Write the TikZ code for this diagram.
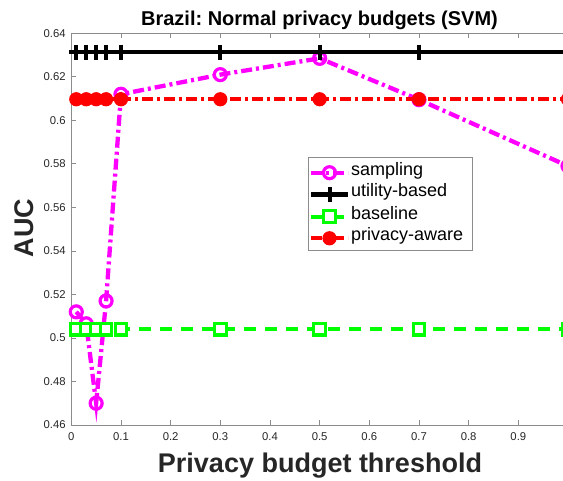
\documentclass[tikz,border=0pt]{standalone}
\usepackage{fontspec}
\setmainfont{Liberation Sans}
\usepackage{xcolor}
\usetikzlibrary{calc,plotmarks}
\frenchspacing
\definecolor{axisgray}{HTML}{8C8C8C}
\definecolor{ticktext}{HTML}{262626}
\definecolor{sampc}{HTML}{FF00FF}
\definecolor{utilc}{HTML}{000000}
\definecolor{basec}{HTML}{00FF00}
\definecolor{privc}{HTML}{FF0000}
\tikzset{
  frame/.style={draw=axisgray, line width=0.8pt},
  tick/.style={draw=axisgray, line width=0.8pt},
  tickl/.style={text=ticktext, font=\fontsize{11.3}{13}\selectfont, inner sep=0pt},
  titl/.style={text=black, font=\fontsize{20}{24}\selectfont\bfseries, inner sep=0pt},
  axl/.style={text=ticktext, font=\fontsize{27}{32}\selectfont\bfseries, inner sep=0pt},
  legl/.style={text=black, font=\fontsize{18}{21}\selectfont, inner sep=0pt},
  sampline/.style={draw=sampc, line width=4.3pt, dash pattern=on 11pt off 4pt on 3pt off 4pt,
    mark=o, mark size=6pt, mark options={solid, line width=3.2pt}},
  utilline/.style={draw=utilc, line width=4.5pt,
    mark=+, mark size=7.5pt, mark options={solid, line width=4pt}},
  baseline/.style={draw=basec, line width=4.3pt, dash pattern=on 12pt off 9pt,
    mark=square*, mark size=5.8pt, mark options={solid, fill=white, line width=3.2pt}},
  privline/.style={draw=privc, line width=4.3pt, dash pattern=on 11pt off 4pt on 3pt off 4pt,
    mark=*, mark size=6.6pt, mark options={solid, fill=privc, line width=1pt}},
}
\begin{document}
\begin{tikzpicture}
  \useasboundingbox (0,0) rectangle (563pt,481pt);

  \begin{scope}[shift={(71.3pt,-944.96pt)}, x=496.7pt, y=2176pt]
    \draw[frame] (0,0.46) rectangle (1,0.64);
    \foreach \t [count=\i] in {0,0.1,0.2,0.3,0.4,0.5,0.6,0.7,0.8,0.9} {
      \draw[tick] (\t,0.46) -- ++(0,5pt);
      \draw[tick] (\t,0.64) -- ++(0,-5pt);
      \node[tickl, anchor=base] (xt\i) at ([yshift=-16pt]\t,0.46) {\t};
    }
    \foreach \v [count=\i] in {0.46,0.48,0.5,0.52,0.54,0.56,0.58,0.6,0.62,0.64} {
      \draw[tick] (0,\v) -- ++(5pt,0);
      \draw[tick] (1,\v) -- ++(-5pt,0);
      \node[tickl, anchor=east] (yt\i) at ([xshift=-5.5pt]0,\v) {\v};
    }

    \draw[sampline] plot coordinates {(0.01,0.512) (0.03,0.5065) (0.05,0.470) (0.07,0.517)
      (0.1,0.612) (0.3,0.621) (0.5,0.6285) (0.7,0.6095) (1,0.579)};
    \draw[utilline] plot coordinates {(0.01,0.6314) (0.03,0.6314) (0.05,0.6314) (0.07,0.6314)
      (0.1,0.6314) (0.3,0.6314) (0.5,0.6314) (0.7,0.6314) (1,0.6314)};
    \draw[baseline] plot coordinates {(0.01,0.504) (0.03,0.504) (0.05,0.504) (0.07,0.504)
      (0.1,0.504) (0.3,0.504) (0.5,0.504) (0.7,0.504) (1,0.504)};
    \draw[privline] plot coordinates {(0.01,0.6097) (0.03,0.6097) (0.05,0.6097) (0.07,0.6097)
      (0.1,0.6097) (0.3,0.6097) (0.5,0.6097) (0.7,0.6097) (1,0.6097)};
  \end{scope}

  \node[titl, anchor=base] (title) at (319.5pt,455pt) {Brazil: Normal privacy budgets (SVM)};
  \node[axl, anchor=base] (xlab) at (320pt,8pt) {Privacy budget threshold};
  \node[axl, anchor=base, rotate=90] (ylab) at (33pt,253pt) {AUC};

  % legend
  \draw[draw=axisgray, fill=white, line width=0.8pt] (308pt,231pt) rectangle (472pt,324pt);
  \draw[sampline] plot[mark indices={2}] coordinates {(311pt,308.3pt) (329.5pt,308.3pt) (348pt,308.3pt)};
  \draw[utilline] plot[mark indices={2}] coordinates {(311pt,286.7pt) (329.5pt,286.7pt) (348pt,286.7pt)};
  \draw[baseline] plot[mark indices={2}] coordinates {(311pt,264.3pt) (329.5pt,264.3pt) (348pt,264.3pt)};
  \draw[privline] plot[mark indices={2}] coordinates {(311pt,242.7pt) (329.5pt,242.7pt) (348pt,242.7pt)};
  \node[legl, anchor=mid west] (lsamp) at (351pt,308.3pt) {sampling};
  \node[legl, anchor=mid west] (lutil) at (351pt,286.7pt) {utility-based};
  \node[legl, anchor=mid west] (lbase) at (351pt,264.3pt) {baseline};
  \node[legl, anchor=mid west] (lpriv) at (351pt,242.7pt) {privacy-aware};
\end{tikzpicture}
\end{document}
